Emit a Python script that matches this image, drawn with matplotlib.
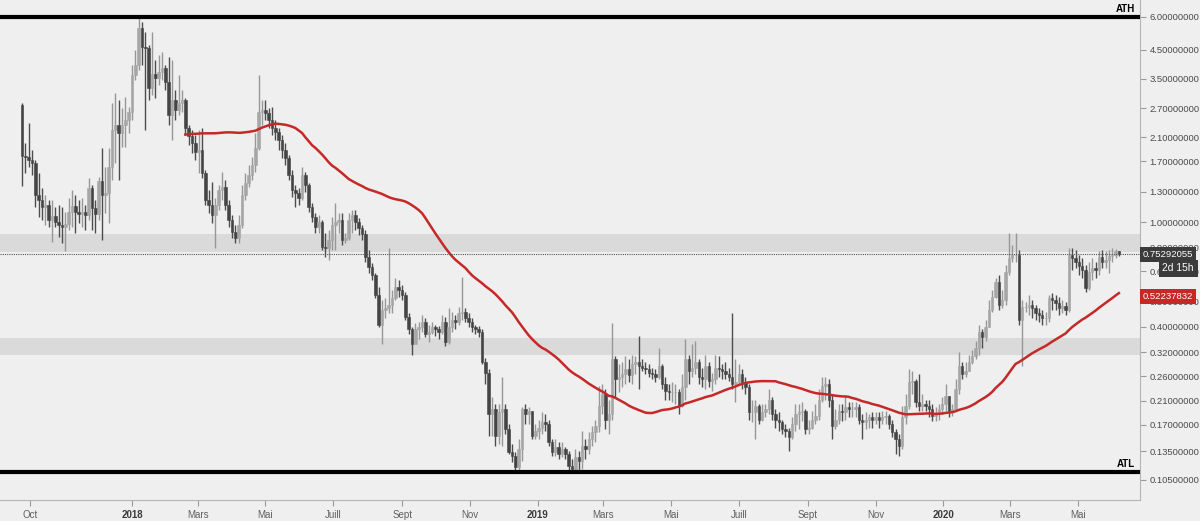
import numpy as np
import pandas as pd
import matplotlib
matplotlib.use("Agg")
import matplotlib.pyplot as plt
import matplotlib.dates as mdates
import matplotlib.transforms as mtrans

# ---------------- data (3-day candles) ----------------
start_date = "2017-09-24"
first_open = 2.78

closes = [
    1.783, 1.767, 1.722, 1.677, 1.270, 1.216, 1.144, 1.164, 1.022, 1.058,
    1.004, 0.978, 0.961, 0.987, 1.095, 1.154, 1.095, 1.076, 1.095, 1.067,
    1.349, 1.134, 1.076, 1.434, 1.270, 1.292, 1.620, 2.237, 2.337, 2.179,
    2.337, 2.441, 2.618, 3.618, 3.948, 5.446, 4.618, 4.578, 3.227, 3.650,
    3.523, 3.714, 3.845, 3.402, 2.550, 2.906, 2.664, 2.831, 2.906, 2.276,
    2.123, 1.997, 1.846, 1.878, 1.537, 1.216, 1.164, 1.067, 1.164, 1.326,
    1.361, 1.164, 1.022, 0.920, 0.873, 0.978, 1.270, 1.409, 1.511, 1.648,
    1.911, 2.618, 2.664, 2.595, 2.441, 2.276, 2.198, 2.050, 1.878, 1.752,
    1.511, 1.326, 1.292, 1.237, 1.511, 1.385, 1.144, 1.049, 0.961, 1.004,
    0.807, 0.800, 0.858, 0.978, 1.004, 1.022, 0.858, 0.873, 1.022, 1.067,
    1.004, 0.953, 0.904, 0.737, 0.675, 0.630, 0.529, 0.408, 0.465, 0.473,
    0.485, 0.516, 0.567, 0.553, 0.529, 0.437, 0.391, 0.343, 0.391, 0.398,
    0.419, 0.375, 0.384, 0.401, 0.391, 0.381, 0.419, 0.349, 0.401, 0.426,
    0.419, 0.453, 0.457, 0.434, 0.419, 0.398, 0.391, 0.381, 0.295, 0.268,
    0.186, 0.195, 0.154, 0.190, 0.195, 0.164, 0.134, 0.129, 0.118, 0.138,
    0.195, 0.186, 0.191, 0.154, 0.161, 0.166, 0.174, 0.171, 0.146, 0.134,
    0.140, 0.132, 0.138, 0.132, 0.119, 0.116, 0.128, 0.124, 0.141, 0.138,
    0.150, 0.160, 0.168, 0.200, 0.222, 0.178, 0.186, 0.301, 0.253, 0.257,
    0.264, 0.276, 0.262, 0.288, 0.295, 0.283, 0.280, 0.276, 0.268, 0.264,
    0.259, 0.283, 0.242, 0.228, 0.226, 0.226, 0.226, 0.200, 0.236, 0.301,
    0.271, 0.280, 0.293, 0.257, 0.253, 0.283, 0.249, 0.253, 0.280, 0.276,
    0.271, 0.264, 0.259, 0.242, 0.246, 0.264, 0.246, 0.236, 0.190, 0.190,
    0.200, 0.178, 0.190, 0.195, 0.212, 0.186, 0.178, 0.174, 0.164, 0.161,
    0.153, 0.171, 0.186, 0.190, 0.191, 0.164, 0.166, 0.178, 0.183, 0.212,
    0.238, 0.242, 0.212, 0.168, 0.178, 0.191, 0.190, 0.198, 0.195, 0.195,
    0.198, 0.178, 0.174, 0.178, 0.182, 0.178, 0.182, 0.177, 0.182, 0.183,
    0.171, 0.160, 0.150, 0.141, 0.182, 0.200, 0.246, 0.249, 0.207, 0.200,
    0.203, 0.200, 0.195, 0.183, 0.186, 0.195, 0.203, 0.218, 0.191, 0.195,
    0.232, 0.283, 0.264, 0.271, 0.295, 0.309, 0.334, 0.381, 0.365, 0.401,
    0.465, 0.520, 0.592, 0.485, 0.507, 0.646, 0.730, 0.750, 0.750, 0.426,
    0.477, 0.477, 0.485, 0.473, 0.453, 0.445, 0.434, 0.434, 0.516, 0.507,
    0.494, 0.473, 0.481, 0.465, 0.750, 0.730, 0.705, 0.681, 0.658, 0.562,
    0.646, 0.669, 0.658, 0.737, 0.705, 0.718, 0.743, 0.750, 0.773, 0.75292055,
]

highs = [
    2.831, 1.997, 2.378, 1.878, 1.722, 1.537, 1.349, 1.270, 1.216, 1.216,
    1.144, 1.164, 1.144, 1.095, 1.237, 1.326, 1.270, 1.216, 1.237, 1.164,
    1.472, 1.385, 1.216, 1.485, 1.911, 1.620, 1.911, 2.831, 3.089, 2.906,
    2.710, 2.983, 2.734, 3.948, 4.500, 6.000, 5.750, 5.264, 4.699, 5.264,
    4.124, 4.307, 4.422, 3.948, 4.233, 4.124, 3.172, 3.618, 3.172, 2.958,
    2.337, 2.237, 2.141, 2.237, 2.276, 1.578, 1.326, 1.422, 1.237, 1.385,
    1.551, 1.446, 1.216, 1.067, 0.978, 1.067, 1.385, 1.537, 1.648, 1.767,
    2.179, 3.618, 2.906, 2.906, 2.710, 2.734, 2.441, 2.276, 2.141, 1.997,
    1.798, 1.578, 1.385, 1.349, 1.620, 1.551, 1.409, 1.184, 1.086, 1.067,
    1.022, 0.912, 0.936, 1.049, 1.184, 1.086, 1.086, 0.912, 1.086, 1.114,
    1.114, 1.040, 0.978, 0.936, 0.786, 0.699, 0.641, 0.567, 0.507, 0.516,
    0.800, 0.553, 0.613, 0.603, 0.577, 0.543, 0.453, 0.398, 0.415, 0.419,
    0.445, 0.434, 0.408, 0.419, 0.408, 0.404, 0.445, 0.437, 0.473, 0.457,
    0.445, 0.477, 0.619, 0.473, 0.453, 0.434, 0.408, 0.404, 0.391, 0.306,
    0.276, 0.216, 0.203, 0.203, 0.259, 0.203, 0.171, 0.144, 0.134, 0.150,
    0.198, 0.203, 0.198, 0.186, 0.171, 0.178, 0.190, 0.186, 0.178, 0.150,
    0.150, 0.146, 0.146, 0.140, 0.135, 0.126, 0.138, 0.135, 0.161, 0.150,
    0.160, 0.168, 0.178, 0.238, 0.242, 0.232, 0.212, 0.415, 0.309, 0.288,
    0.295, 0.309, 0.301, 0.314, 0.309, 0.368, 0.301, 0.295, 0.288, 0.280,
    0.276, 0.334, 0.288, 0.257, 0.242, 0.246, 0.242, 0.232, 0.264, 0.359,
    0.314, 0.343, 0.352, 0.301, 0.280, 0.314, 0.295, 0.268, 0.314, 0.309,
    0.288, 0.295, 0.280, 0.453, 0.301, 0.288, 0.276, 0.257, 0.242, 0.212,
    0.212, 0.203, 0.203, 0.203, 0.232, 0.216, 0.195, 0.190, 0.178, 0.171,
    0.166, 0.182, 0.203, 0.203, 0.207, 0.195, 0.178, 0.191, 0.203, 0.232,
    0.257, 0.257, 0.253, 0.222, 0.195, 0.203, 0.203, 0.218, 0.207, 0.207,
    0.207, 0.203, 0.186, 0.190, 0.186, 0.190, 0.190, 0.190, 0.191, 0.191,
    0.186, 0.178, 0.164, 0.157, 0.200, 0.222, 0.276, 0.271, 0.253, 0.264,
    0.222, 0.212, 0.212, 0.203, 0.198, 0.203, 0.216, 0.242, 0.218, 0.203,
    0.253, 0.320, 0.295, 0.295, 0.314, 0.328, 0.352, 0.408, 0.391, 0.426,
    0.507, 0.553, 0.613, 0.630, 0.553, 0.687, 0.912, 0.821, 0.912, 0.786,
    0.507, 0.498, 0.529, 0.507, 0.485, 0.473, 0.465, 0.457, 0.529, 0.538,
    0.529, 0.520, 0.507, 0.498, 0.800, 0.800, 0.786, 0.750, 0.730, 0.687,
    0.705, 0.730, 0.705, 0.773, 0.786, 0.773, 0.786, 0.800, 0.793, 0.773,
]

lows = [
    1.373, 1.537, 1.620, 1.511, 1.144, 1.049, 1.022, 0.978, 0.961, 0.843,
    0.961, 0.881, 0.836, 0.773, 0.936, 0.961, 0.912, 0.995, 0.961, 0.936,
    1.022, 0.936, 0.912, 1.022, 0.858, 1.086, 0.995, 1.446, 1.677, 1.446,
    1.928, 1.928, 2.179, 2.441, 3.462, 3.779, 3.948, 2.237, 2.906, 3.036,
    2.958, 3.314, 3.462, 3.172, 2.337, 2.050, 2.441, 2.550, 2.618, 2.141,
    1.962, 1.830, 1.722, 1.537, 1.472, 1.164, 1.086, 0.995, 0.800, 1.114,
    1.216, 1.114, 0.961, 0.873, 0.836, 0.836, 0.953, 1.216, 1.361, 1.446,
    1.551, 1.878, 2.337, 2.441, 2.276, 2.141, 2.050, 1.878, 1.752, 1.648,
    1.446, 1.248, 1.144, 1.164, 1.216, 1.303, 1.095, 1.004, 0.912, 0.912,
    0.786, 0.737, 0.718, 0.786, 0.786, 0.912, 0.821, 0.836, 0.858, 0.912,
    0.936, 0.896, 0.858, 0.705, 0.641, 0.603, 0.516, 0.400, 0.343, 0.434,
    0.453, 0.453, 0.507, 0.520, 0.507, 0.426, 0.375, 0.314, 0.349, 0.359,
    0.381, 0.365, 0.349, 0.375, 0.368, 0.359, 0.375, 0.337, 0.343, 0.381,
    0.391, 0.408, 0.426, 0.419, 0.401, 0.381, 0.375, 0.365, 0.288, 0.242,
    0.154, 0.154, 0.141, 0.144, 0.141, 0.157, 0.132, 0.123, 0.114, 0.114,
    0.124, 0.171, 0.171, 0.150, 0.150, 0.150, 0.157, 0.161, 0.141, 0.129,
    0.129, 0.126, 0.128, 0.126, 0.114, 0.113, 0.114, 0.113, 0.116, 0.126,
    0.132, 0.141, 0.146, 0.160, 0.186, 0.164, 0.157, 0.178, 0.216, 0.226,
    0.236, 0.242, 0.246, 0.242, 0.264, 0.232, 0.271, 0.264, 0.257, 0.253,
    0.246, 0.253, 0.232, 0.212, 0.212, 0.207, 0.203, 0.186, 0.198, 0.212,
    0.242, 0.257, 0.264, 0.242, 0.236, 0.232, 0.236, 0.228, 0.242, 0.257,
    0.253, 0.253, 0.249, 0.232, 0.207, 0.242, 0.232, 0.222, 0.178, 0.174,
    0.150, 0.171, 0.175, 0.182, 0.186, 0.178, 0.166, 0.161, 0.157, 0.153,
    0.135, 0.150, 0.161, 0.164, 0.175, 0.157, 0.157, 0.164, 0.171, 0.178,
    0.207, 0.212, 0.198, 0.150, 0.164, 0.171, 0.175, 0.178, 0.182, 0.182,
    0.182, 0.171, 0.150, 0.164, 0.166, 0.166, 0.171, 0.166, 0.171, 0.171,
    0.164, 0.153, 0.132, 0.129, 0.138, 0.171, 0.195, 0.222, 0.198, 0.191,
    0.191, 0.191, 0.182, 0.175, 0.175, 0.178, 0.186, 0.191, 0.182, 0.183,
    0.191, 0.222, 0.253, 0.257, 0.271, 0.288, 0.301, 0.314, 0.334, 0.352,
    0.398, 0.457, 0.516, 0.465, 0.473, 0.485, 0.630, 0.705, 0.705, 0.408,
    0.283, 0.457, 0.445, 0.434, 0.426, 0.419, 0.408, 0.408, 0.419, 0.465,
    0.465, 0.445, 0.453, 0.445, 0.457, 0.658, 0.669, 0.630, 0.613, 0.543,
    0.553, 0.603, 0.613, 0.630, 0.669, 0.669, 0.641, 0.705, 0.730, 0.743,
]

ma_period = 50
ath_value = 6.0
atl_value = 0.113
zones = [(0.769, 0.900), (0.3125, 0.363)]
ma_label_value = 0.52237832
countdown_text = "2d 15h"

y_ticks = [6.0, 4.5, 3.5, 2.7, 2.1, 1.7, 1.3, 1.0, 0.8, 0.65, 0.5, 0.4,
           0.32, 0.26, 0.21, 0.17, 0.135, 0.105]
x_tick_dates = ["2017-10-01", "2018-01-01", "2018-03-01", "2018-05-01",
                "2018-07-01", "2018-09-01", "2018-11-01", "2019-01-01",
                "2019-03-01", "2019-05-01", "2019-07-01", "2019-09-01",
                "2019-11-01", "2020-01-01", "2020-03-01", "2020-05-01"]
x_tick_labels = ["Oct", "2018", "Mars", "Mai", "Juill", "Sept", "Nov", "2019",
                 "Mars", "Mai", "Juill", "Sept", "Nov", "2020", "Mars", "Mai"]

# ---------------- derived ----------------
c = np.array(closes, dtype=float)
o = np.array([first_open] + closes[:-1], dtype=float)
h = np.maximum.reduce([np.array(highs, float), o, c])
l = np.minimum.reduce([np.array(lows, float), o, c])
n = len(c)
dates = pd.date_range(start_date, periods=n, freq="3D")
x = mdates.date2num(dates)
ma = pd.Series(c).rolling(ma_period).mean().values

plt.rcParams["font.family"] = ["Liberation Sans", "DejaVu Sans"]
BG = "#efefef"
fig = plt.figure(figsize=(12, 5.21), dpi=100, facecolor=BG)
ax = fig.add_axes([0, 21 / 521, 1140 / 1200, 500 / 521])
ax.set_facecolor(BG)
ax.set_yscale("log")
ax.set_ylim(0.0881, 6.96)
ax.set_xlim(x[0] - 19.8, x[0] + 1006)

for lo, hi in zones:
    ax.axhspan(lo, hi, color="#dadada", lw=0, zorder=0)

up = c >= o
body_col = np.where(up, "#a6a6a6", "#444444")
wick_col = np.where(up, "#979797", "#4c4c4c")
ax.vlines(x, l, h, colors=wick_col, lw=1.0, zorder=2)
ax.bar(x, np.abs(c - o), bottom=np.minimum(o, c), width=2.3,
       color=body_col, edgecolor=body_col, lw=0.4, zorder=3)

ax.plot(x, ma, color="#c62828", lw=1.8, zorder=4)

ax.axhline(ath_value, color="black", lw=3, zorder=5)
ax.axhline(atl_value, color="black", lw=3, zorder=5)
ax.axhline(c[-1], color="#555555", lw=0.8, ls=(0, (1, 1)), zorder=4)

blend = mtrans.blended_transform_factory(ax.transAxes, ax.transData)
for val, txt in [(ath_value, "ATH"), (atl_value, "ATL")]:
    ax.annotate(txt, xy=(1, val), xycoords=blend, xytext=(-5, 3),
                textcoords="offset pixels", ha="right", va="bottom",
                fontsize=7, fontweight="bold", color="black", zorder=6)

# axes styling
for s in ["top", "left"]:
    ax.spines[s].set_visible(False)
for s in ["right", "bottom"]:
    ax.spines[s].set_color("#b5b5b5")
    ax.spines[s].set_linewidth(0.8)

ax.yaxis.tick_right()
ax.yaxis.set_minor_locator(matplotlib.ticker.NullLocator())
ax.set_yticks(y_ticks)
ax.set_yticklabels([f"{v:.8f}" for v in y_ticks])
ax.tick_params(axis="y", direction="out", length=4, width=0.8, color="#9a9a9a",
               labelcolor="#4a4a4a", labelsize=6.8, pad=3)

xt = mdates.date2num(pd.to_datetime(x_tick_dates))
ax.set_xticks(xt)
ax.set_xticklabels(x_tick_labels)
ax.tick_params(axis="x", direction="out", length=4, width=0.8, color="#9a9a9a",
               labelcolor="#606060", labelsize=7, pad=3)
for lab in ax.get_xticklabels():
    if lab.get_text().isdigit():
        lab.set_fontweight("bold")
        lab.set_color("#3a3a3a")

# price labels on the scale
ax.annotate(f"{c[-1]:.8f}", xy=(1, c[-1]), xycoords=blend, xytext=(3, 0),
            textcoords="offset pixels", ha="left", va="center", fontsize=6.8,
            color="white", zorder=10, annotation_clip=False,
            bbox=dict(boxstyle="square,pad=0.3", fc="#3b3b3b", ec="none"))
ax.annotate(countdown_text, xy=(1, c[-1]), xycoords=blend, xytext=(54, -14),
            textcoords="offset pixels", ha="right", va="center", fontsize=7.4,
            color="white", zorder=10, annotation_clip=False,
            bbox=dict(boxstyle="square,pad=0.35", fc="#3b3b3b", ec="none"))
ax.annotate(f"{ma_label_value:.8f}", xy=(1, ma_label_value), xycoords=blend,
            xytext=(3, 0), textcoords="offset pixels", ha="left", va="center",
            fontsize=6.8, color="white", zorder=10, annotation_clip=False,
            bbox=dict(boxstyle="square,pad=0.3", fc="#c62828", ec="none"))

fig.savefig("out.png", dpi=100, facecolor=BG)
